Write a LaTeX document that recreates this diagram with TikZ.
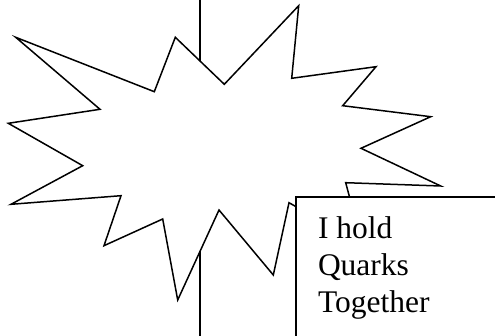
\documentclass[tikz,border=0pt]{standalone}
\usepackage{fontspec}
\setmainfont{Liberation Serif}
\begin{document}
\begin{tikzpicture}[x=1pt,y=-1pt,
  starline/.style={draw=black,line width=1.5pt,fill=white,line join=miter},
  boxline/.style={draw=black,line width=2pt,fill=white},
  axisline/.style={draw=black,line width=2pt},
  labeltext/.style={anchor=north west,align=left,inner sep=0pt,font=\fontsize{31.5}{37}\selectfont}]
\useasboundingbox (0,0) rectangle (495,336);
\clip (0,0) rectangle (495,336);
\coordinate (ltop) at (200,-5);
\coordinate (lbot) at (200,345);
\draw[axisline] (ltop) -- (lbot);
\path[starline] (15.7,37.3) -- (154.3,91.7) -- (175.3,37.3) -- (224.3,84.3) -- (298.7,5.7) -- (291.7,78.3) -- (376,66.7) -- (342.7,105.7) -- (430.7,116.7) -- (361,148.3) -- (440.7,186) -- (345.7,182.7) -- (362,244) -- (289,202.7) -- (273.3,275) -- (219,210) -- (177.7,300) -- (162.7,219) -- (104,245.7) -- (121,195.7) -- (11,204.3) -- (82.7,165.7) -- (8.3,123.3) -- (100,109.3) -- cycle;
\path[boxline] (296,197.3) rectangle (520,360);
\node[labeltext] (label) at (317.8,216.5) {I hold\\Quarks\\Together};
\end{tikzpicture}
\end{document}
